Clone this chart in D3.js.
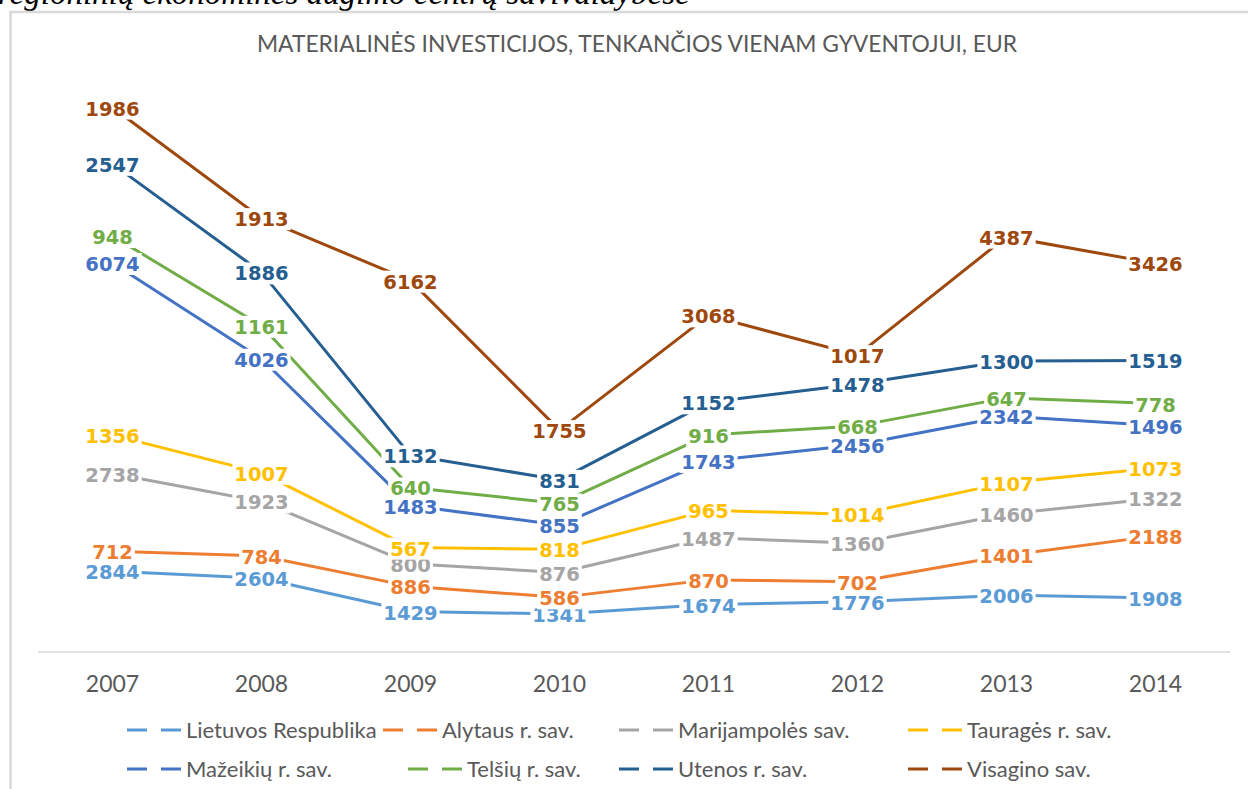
<!DOCTYPE html>
<meta charset="utf-8">
<style>
  body { margin: 0; background: #fff; }
  svg { display: block; }
</style>
<body>
<svg></svg>
<script src="https://cdn.jsdelivr.net/npm/d3@7"></script>
<script>

// DATA ------------------------------------------------------------
var years = ["2007", "2008", "2009", "2010", "2011", "2012", "2013", "2014"];
var seriesNames = ["Lietuvos Respublika", "Alytaus r. sav.", "Marijampolės sav.", "Tauragės r. sav.",
                   "Mažeikių r. sav.", "Telšių r. sav.", "Utenos r. sav.", "Visagino sav."];

var lietuva      = [2844, 2604, 1429, 1341, 1674, 1776, 2006, 1908];
var alytus       = [712, 784, 886, 586, 870, 702, 1401, 2188];
var marijampole  = [2738, 1923, 800, 876, 1487, 1360, 1460, 1322];
var taurage      = [1356, 1007, 567, 818, 965, 1014, 1107, 1073];
var mazeikiai    = [6074, 4026, 1483, 855, 1743, 2456, 2342, 1496];
var telsiai      = [948, 1161, 640, 765, 916, 668, 647, 778];
var utena        = [2547, 1886, 1132, 831, 1152, 1478, 1300, 1519];
var visaginas    = [1986, 1913, 6162, 1755, 3068, 1017, 4387, 3426];

var allSeries = [lietuva, alytus, marijampole, taurage, mazeikiai, telsiai, utena, visaginas];
var colors = ["#5b9bd5", "#ed7d31", "#a5a5a5", "#ffc000", "#4472c4", "#70ad47", "#255e91", "#9e480e"];

var title = "MATERIALINĖS INVESTICIJOS, TENKANČIOS VIENAM GYVENTOJUI, EUR";
var caption = "regioninių ekonominės augimo centrų savivaldybėse";

// SETUP -----------------------------------------------------------
var width = 1248, height = 789;
var svg = d3.select("svg").attr("width", width).attr("height", height);

// caption cut off at top of the page
svg.append("text")
   .attr("x", -2).attr("y", 4)
   .attr("font-family", "Liberation Serif")
   .attr("font-style", "italic")
   .attr("font-size", 33)
   .attr("fill", "#000")
   .text(caption);

// chart frame
svg.append("rect")
   .attr("x", 10.5).attr("y", 12)
   .attr("width", 1400).attr("height", 900)
   .attr("fill", "none")
   .attr("stroke", "#d9d9d9")
   .attr("stroke-width", 2.5);

svg.append("text")
   .attr("x", 637).attr("y", 52)
   .attr("text-anchor", "middle")
   .attr("font-family", "Lato")
   .attr("font-size", 22.8)
   .attr("fill", "#595959")
   .text(title);

// scales
var x = d3.scaleBand().domain(years).range([38, 1230]);
var y = d3.scaleLinear().domain([0, 20000]).range([652, 85]);

// stacked line chart: build rows per year
var rows = years.map(function(yr, i) {
  var r = {year: yr};
  seriesNames.forEach(function(n, s) { r[n] = allSeries[s][i]; });
  return r;
});
var stacked = d3.stack().keys(seriesNames)(rows);

// axis line + labels
svg.append("line")
   .attr("x1", 38).attr("x2", 1230)
   .attr("y1", y(0)).attr("y2", y(0))
   .attr("stroke", "#d9d9d9").attr("stroke-width", 1.5);

svg.append("g").selectAll("text")
   .data(years).enter().append("text")
   .attr("x", function(d) { return x(d) + x.bandwidth() / 2; })
   .attr("y", 692)
   .attr("text-anchor", "middle")
   .attr("font-family", "Lato")
   .attr("font-size", 23)
   .attr("fill", "#595959")
   .text(function(d) { return d; });

// LINES -----------------------------------------------------------
var line = d3.line()
  .x(function(d) { return x(d.data.year) + x.bandwidth() / 2; })
  .y(function(d) { return y(d[1]); });

svg.append("g").selectAll("path")
   .data(stacked).enter().append("path")
   .attr("d", line)
   .attr("fill", "none")
   .attr("stroke", function(d, i) { return colors[i]; })
   .attr("stroke-width", 3)
   .attr("stroke-linejoin", "round");

// DATA LABELS (white box behind, like excel) ----------------------
var labelLayer = svg.append("g");
stacked.forEach(function(ser, s) {
  ser.forEach(function(pt, i) {
    var g = labelLayer.append("g");
    var cx = x(pt.data.year) + x.bandwidth() / 2;
    var cy = y(pt[1]) + 1;
    var t = g.append("text")
      .attr("x", cx).attr("y", cy)
      .attr("dy", "0.36em")
      .attr("text-anchor", "middle")
      .attr("font-family", "DejaVu Sans")
      .attr("font-weight", "bold")
      .attr("font-size", 19.5)
      .attr("fill", colors[s])
      .text(allSeries[s][i]);
    var bb = t.node().getBBox();
    g.insert("rect", "text")
      .attr("x", bb.x - 2).attr("y", cy - 11)
      .attr("width", bb.width + 4).attr("height", 22)
      .attr("fill", "#fff");
  });
});

// LEGEND ----------------------------------------------------------
var legendX = [127, 383, 619, 908, 127, 408, 619, 908];
var legendY = [730, 769];

var legend = svg.append("g").selectAll("g")
  .data(seriesNames).enter().append("g")
  .attr("transform", function(d, i) {
    return "translate(" + legendX[i] + "," + legendY[Math.floor(i / 4)] + ")";
  });

legend.append("line")
  .attr("x1", 0).attr("x2", 54)
  .attr("y1", 0).attr("y2", 0)
  .attr("stroke", function(d, i) { return colors[i]; })
  .attr("stroke-width", 3)
  .attr("stroke-dasharray", "20,14");

legend.append("text")
  .attr("x", 59).attr("y", 0)
  .attr("dy", "0.35em")
  .attr("font-family", "Lato")
  .attr("font-size", 22)
  .attr("fill", "#595959")
  .text(function(d) { return d; });

</script>
</body>
</html>
